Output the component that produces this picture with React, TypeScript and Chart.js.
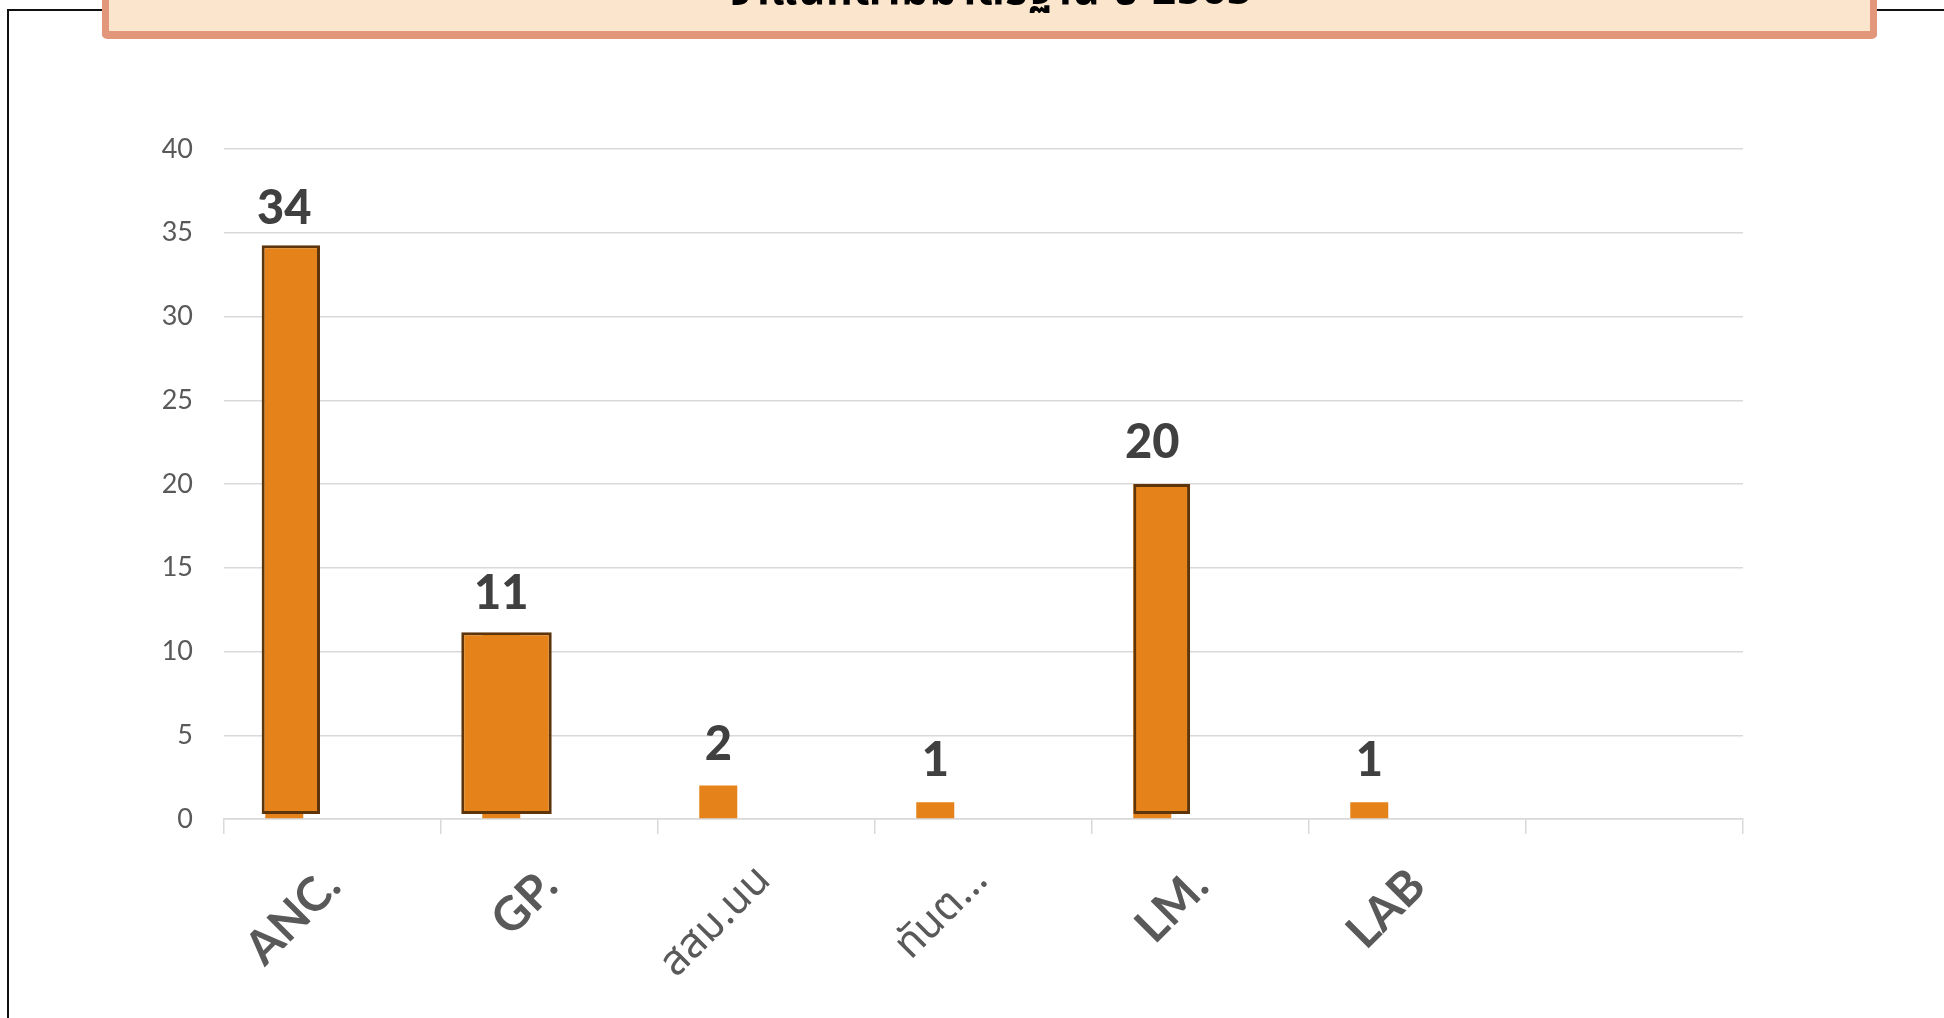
import React, { useEffect, useRef } from "react";
import { Chart, registerables } from "chart.js";

Chart.register(...registerables);

// ---- data ----
const categories = ["ANC.", "GP.", "สสม.นน", "ทันต…", "LM.", "LAB", ""];
const values: (number | null)[] = [34, 11, 2, 1, 20, 1, null];
// highlighted frames (floating ranges drawn over some bars)
const ancFrame: ([number, number] | null)[] = [[0.3, 34.25], null, null, null, null, null, null];
const gpFrame: ([number, number] | null)[] = [null, [0.3, 11.15], null, null, null, null, null];
const lmFrame: ([number, number] | null)[] = [null, null, null, null, [0.3, 20.0], null, null];
const emptySlot: (number | null)[] = [null, null, null, null, null, null, null];
const yMin = 0;
const yMax = 40;
const yStep = 5;
const titleText = "จำแนกตามมาตรฐาน ปี 2563";

const ORANGE = "#E5831A";
const BROWN = "#5E340A";
const THAI_FONT = "'Noto Sans Thai', 'Noto Sans Thai UI', Tahoma, 'Noto Sans', sans-serif";

const valueLabels = {
  id: "valueLabels",
  afterDatasetsDraw(chart: any) {
    const meta = chart.getDatasetMeta(3);
    const ctx = chart.ctx;
    ctx.save();
    ctx.font = "900 47px Lato";
    ctx.fillStyle = "#404040";
    ctx.textAlign = "center";
    ctx.textBaseline = "alphabetic";
    meta.data.forEach((el: any, i: number) => {
      const v = values[i];
      if (v == null) return;
      ctx.fillText(String(v), el.x, el.y - 26);
    });
    ctx.restore();
  },
};

export default function App() {
  const ref = useRef<HTMLCanvasElement | null>(null);
  useEffect(() => {
    if (!ref.current) return;
    const frameStyle = (catPct: number, barPct: number) => ({
      backgroundColor: ORANGE,
      borderColor: BROWN,
      borderWidth: 3,
      borderSkipped: false as const,
      categoryPercentage: catPct,
      barPercentage: barPct,
      stack: "a",
    });
    const chart = new Chart(ref.current, {
      type: "bar",
      data: {
        labels: categories,
        datasets: [
          { label: "ANC frame", data: ancFrame as any, ...frameStyle(0.768, 0.70) },
          { label: "GP frame", data: gpFrame as any, ...frameStyle(0.7926, 1.052) },
          { label: "LM frame", data: lmFrame as any, ...frameStyle(0.715, 0.731) },
          {
            label: "จำนวน",
            data: values as any,
            backgroundColor: ORANGE,
            borderWidth: 0,
            categoryPercentage: 0.889,
            barPercentage: 0.394,
            stack: "a",
          },
          {
            label: "",
            data: emptySlot as any,
            backgroundColor: "rgba(0,0,0,0)",
            categoryPercentage: 0.889,
            barPercentage: 0.394,
            stack: "b",
          },
        ],
      },
      options: {
        animation: false,
        responsive: false,
        devicePixelRatio: 1,
        layout: { padding: { left: 0, top: 149, right: 201, bottom: 0 } },
        plugins: {
          legend: { display: false },
          title: { display: false },
          tooltip: { enabled: false },
        },
        scales: {
          x: {
            grid: {
              display: true,
              drawOnChartArea: false,
              drawTicks: true,
              tickLength: 15,
              color: "#D9D9D9",
              lineWidth: 1.5,
              offset: true,
            },
            border: { display: true, color: "#D9D9D9", width: 1.5 },
            ticks: {
              autoSkip: false,
              minRotation: 45,
              maxRotation: 45,
              padding: 24,
              color: "#595959",
              font: (c: any) => {
                const lbl = categories[c.index] || "";
                return /[\u0E00-\u0E7F]/.test(lbl)
                  ? { family: THAI_FONT, size: 42, weight: "normal" }
                  : { family: "Lato", size: 47, weight: "bold" };
              },
            },
            afterFit: (s: any) => {
              s.height = 199;
            },
          },
          y: {
            stacked: false,
            min: yMin,
            max: yMax,
            ticks: {
              stepSize: yStep,
              padding: 31,
              color: "#595959",
              font: { family: "Lato", size: 27 },
            },
            grid: { color: "#D9D9D9", lineWidth: 1.5, drawTicks: false },
            border: { display: false },
            afterFit: (s: any) => {
              s.width = 224;
            },
          },
        },
      },
      plugins: [valueLabels],
    });
    return () => chart.destroy();
  }, []);

  return (
    <div
      style={{
        position: "fixed",
        left: 0,
        top: 0,
        width: 1944,
        height: 1018,
        background: "#ffffff",
        overflow: "hidden",
      }}
    >
      <div
        style={{
          position: "absolute",
          left: 7,
          top: 9,
          width: 2100,
          height: 1200,
          borderLeft: "2px solid #111",
          borderTop: "2px solid #111",
        }}
      />
      <canvas ref={ref} width={1944} height={1018} style={{ position: "absolute", left: 0, top: 0 }} />
      <div
        style={{
          position: "absolute",
          left: 102,
          top: -60,
          width: 1775,
          height: 99,
          boxSizing: "border-box",
          background: "#FBE5CD",
          borderStyle: "solid",
          borderColor: "#E2977A",
          borderWidth: "0 7.5px 8px 7.5px",
          borderRadius: 5,
        }}
      />
      <div
        style={{
          position: "absolute",
          left: 0,
          width: 1980,
          top: -30,
          textAlign: "center",
          fontFamily: THAI_FONT,
          fontWeight: "bold",
          fontSize: 42,
          letterSpacing: 1,
          lineHeight: "42px",
          color: "#000",
          whiteSpace: "nowrap",
        }}
      >
        {titleText}
      </div>
    </div>
  );
}
